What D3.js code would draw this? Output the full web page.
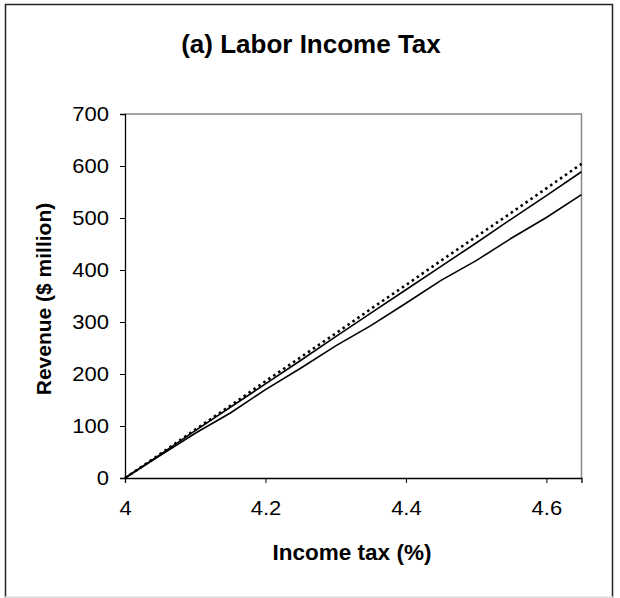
<!DOCTYPE html>
<html>
<head>
<meta charset="utf-8">
<script src="https://cdn.jsdelivr.net/npm/d3@7"></script>
<style>
  html, body { margin: 0; padding: 0; background: #fff; }
  svg { display: block; }
  text { font-family: "Liberation Sans", Arial, sans-serif; fill: #000; }
</style>
</head>
<body>
<svg id="chart" width="620" height="598"></svg>
<script>
// Income tax rate (%) at which revenue is simulated
const taxRates = [4.00, 4.05, 4.10, 4.15, 4.20, 4.25, 4.30, 4.35, 4.40, 4.45, 4.50, 4.55, 4.60, 4.65];
// Revenue ($ million) for three model variants
const revenueLow   = [0, 43, 86, 125, 170, 211, 254, 293, 336, 380, 418, 461, 501, 545];
const revenueMid   = [0, 45, 91, 136, 181, 226, 272, 317, 362, 407, 452, 498, 543, 589];
const revenueHigh  = [0, 46, 93, 139, 186, 232, 278, 325, 371, 418, 464, 510, 557, 604];
const xTicks = [4, 4.2, 4.4, 4.6];
const yTicks = [0, 100, 200, 300, 400, 500, 600, 700];

const svg = d3.select("#chart");
const plot = { left: 125, right: 581.5, top: 114, bottom: 478 };

const x = d3.scaleLinear().domain([4, 4.65]).range([plot.left, plot.right]);
const y = d3.scaleLinear().domain([0, 700]).range([plot.bottom, plot.top]);

// outer frame
svg.append("rect").attr("x", 5.5).attr("y", 4.5).attr("width", 607).attr("height", 594)
  .attr("fill", "none").attr("stroke", "#222").attr("stroke-width", 1.5);
svg.append("line").attr("x1", 5).attr("x2", 613).attr("y1", 597).attr("y2", 597)
  .attr("stroke", "#e4e4e4").attr("stroke-width", 1.5);

// plot area box (top & right in grey)
svg.append("path")
  .attr("d", `M${plot.left},${plot.top}H${plot.right}V${plot.bottom}`)
  .attr("fill", "none").attr("stroke", "#888").attr("stroke-width", 1.5);

// axes
const xAxis = svg.append("g").attr("transform", `translate(0,${plot.bottom})`)
  .call(d3.axisBottom(x).tickValues(xTicks).tickSize(5).tickPadding(18).tickFormat(d3.format("")));
const yAxis = svg.append("g").attr("transform", `translate(${plot.left},0)`)
  .call(d3.axisLeft(y).tickValues(yTicks).tickSize(5).tickPadding(11));
[xAxis, yAxis].forEach(g => {
  g.select(".domain").attr("stroke", "#000").attr("stroke-width", 1.3);
  g.selectAll(".tick line").attr("stroke", "#000").attr("stroke-width", 1);
  g.selectAll(".tick text").style("font-family", "'Liberation Sans', Arial, sans-serif")
    .style("font-size", "20px").attr("fill", "#000");
});
// tick labels are set slightly wide
xAxis.selectAll(".tick text").attr("transform", "scale(1.1,1)");
yAxis.selectAll(".tick text").each(function () {
  const tx = +d3.select(this).attr("x");
  d3.select(this).attr("transform", `translate(${tx},0) scale(1.1,1) translate(${-tx},0)`);
});

// series
const line = d3.line().x((d, i) => x(taxRates[i])).y(d => y(d));
svg.append("path").datum(revenueLow).attr("d", line)
  .attr("fill", "none").attr("stroke", "#000").attr("stroke-width", 1.6);
svg.append("path").datum(revenueMid).attr("d", line)
  .attr("fill", "none").attr("stroke", "#000").attr("stroke-width", 1.6);
svg.append("path").datum(revenueHigh).attr("d", line)
  .attr("fill", "none").attr("stroke", "#000").attr("stroke-width", 2.6)
  .attr("stroke-dasharray", "2.5,3.5");

// titles
svg.append("text").attr("x", 311).attr("y", 53).attr("text-anchor", "middle")
  .style("font-size", "26px").style("font-weight", "bold").text("(a) Labor Income Tax");
svg.append("text").attr("x", 352).attr("y", 560).attr("text-anchor", "middle")
  .style("font-size", "22.5px").style("font-weight", "bold").text("Income tax (%)");
svg.append("text").attr("transform", "translate(51,299) rotate(-90)").attr("text-anchor", "middle")
  .style("font-size", "21px").style("font-weight", "bold").text("Revenue ($ million)");
</script>
</body>
</html>
